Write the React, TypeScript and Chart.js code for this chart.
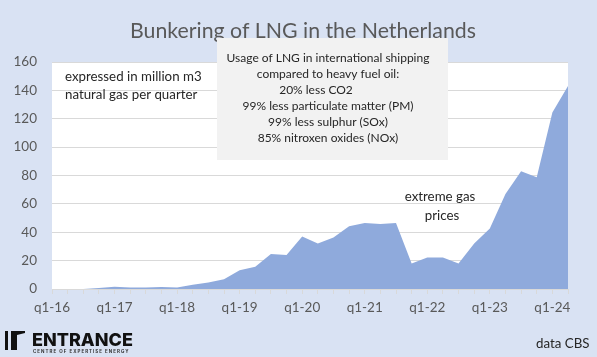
import React, { useEffect, useRef } from "react";
import { Chart, registerables } from "chart.js";

Chart.register(...registerables);

const quarters = [
  "q1-16", "q2-16", "q3-16", "q4-16",
  "q1-17", "q2-17", "q3-17", "q4-17",
  "q1-18", "q2-18", "q3-18", "q4-18",
  "q1-19", "q2-19", "q3-19", "q4-19",
  "q1-20", "q2-20", "q3-20", "q4-20",
  "q1-21", "q2-21", "q3-21", "q4-21",
  "q1-22", "q2-22", "q3-22", "q4-22",
  "q1-23", "q2-23", "q3-23", "q4-23",
  "q1-24", "q2-24",
];

const lngVolume = [
  0, 0, 0, 0.7,
  1.6, 1.0, 1.0, 1.4,
  1.0, 3.0, 4.5, 6.8,
  13.3, 15.7, 24.6, 24.0,
  37, 32, 36.3, 44.2,
  46.5, 45.8, 46.5, 18,
  22.2, 22.2, 18, 32,
  42.6, 67, 83, 78.8,
  124.4, 143,
];

const yTicks = [0, 20, 40, 60, 80, 100, 120, 140, 160];

const titleText = "Bunkering of LNG in the Netherlands";
const unitNote = ["expressed in million m3", "natural gas per quarter"];
const boxLines = [
  "Usage of LNG in international shipping",
  "compared to heavy fuel oil:",
  "20% less CO2",
  "99% less particulate matter (PM)",
  "99% less sulphur (SOx)",
  "85% nitroxen oxides (NOx)",
];
const priceNote = ["extreme gas", "prices"];
const sourceText = "data CBS";
const logoText = "ENTRANCE";
const logoSub = "CENTRE OF EXPERTISE ENERGY";

const FONT = "Lato, 'Open Sans', sans-serif";
const BG = "#D9E2F3";
const AREA = "#8FAADC";
const GRID = "#D9D9D9";
const TICK = "#595959";
const TEXT = "#262626";

const decorPlugin = {
  id: "decor",
  beforeDraw(chart: any) {
    const { ctx, chartArea } = chart;
    ctx.save();
    ctx.fillStyle = BG;
    ctx.fillRect(0, 0, chart.width, chart.height);
    ctx.fillStyle = "#FFFFFF";
    ctx.fillRect(chartArea.left, chartArea.top, chartArea.right - chartArea.left, chartArea.bottom - chartArea.top);
    ctx.restore();
  },
  afterDraw(chart: any) {
    const { ctx } = chart;
    ctx.save();
    // title
    ctx.fillStyle = TICK;
    ctx.font = `21.3px ${FONT}`;
    ctx.textAlign = "center";
    ctx.textBaseline = "alphabetic";
    ctx.fillText(titleText, 303, 38);

    // unit note
    ctx.fillStyle = TEXT;
    ctx.font = `13.3px ${FONT}`;
    ctx.textAlign = "left";
    ctx.textBaseline = "middle";
    ctx.fillText(unitNote[0], 65, 77);
    ctx.fillText(unitNote[1], 65, 95);

    // info box
    ctx.fillStyle = "#F2F2F2";
    ctx.fillRect(217, 38, 231, 122);
    ctx.fillStyle = TEXT;
    ctx.font = `12px ${FONT}`;
    ctx.textAlign = "center";
    boxLines.forEach((line, i) => {
      const cx = i === 2 ? 316 : 328;
      ctx.fillText(line, cx, 58 + i * 16);
    });

    // price note
    ctx.font = `13.3px ${FONT}`;
    ctx.fillText(priceNote[0], 440, 197);
    ctx.fillText(priceNote[1], 442, 216);

    // source
    ctx.textAlign = "left";
    ctx.fillText(sourceText, 536, 344);

    // logo
    ctx.fillStyle = "#111111";
    ctx.fillRect(5, 331, 3, 19);
    ctx.beginPath();
    ctx.moveTo(11, 331);
    ctx.lineTo(25, 331);
    ctx.lineTo(25, 333);
    ctx.lineTo(17, 335);
    ctx.lineTo(17, 350);
    ctx.lineTo(11, 350);
    ctx.closePath();
    ctx.fill();
    ctx.font = `800 18px Inter, ${FONT}`;
    ctx.textBaseline = "alphabetic";
    ctx.fillText(logoText, 32, 346);
    ctx.font = `700 4.5px Inter, ${FONT}`;
    (ctx as any).letterSpacing = "1px";
    ctx.fillStyle = "#333333";
    ctx.fillText(logoSub, 33, 353);
    (ctx as any).letterSpacing = "0px";
    ctx.restore();
  },
};

export default function App() {
  const ref = useRef<HTMLCanvasElement | null>(null);

  useEffect(() => {
    if (!ref.current) return;
    const chart = new Chart(ref.current, {
      type: "line",
      data: {
        labels: quarters,
        datasets: [
          {
            data: lngVolume,
            fill: "origin",
            backgroundColor: AREA,
            borderWidth: 0,
            borderColor: AREA,
            pointRadius: 0,
            tension: 0,
          },
        ],
      },
      options: {
        responsive: false,
        animation: false,
        events: [],
        layout: { padding: { top: 62, right: 29, left: 0, bottom: 0 } },
        plugins: {
          legend: { display: false },
          title: { display: false },
          tooltip: { enabled: false },
        },
        scales: {
          x: {
            type: "category",
            offset: false,
            afterFit: (scale: any) => {
              scale.height = 68;
            },
            grid: {
              drawOnChartArea: false,
              drawTicks: true,
              tickLength: 5,
              color: GRID,
            },
            border: { display: true, color: GRID, width: 1 },
            ticks: {
              autoSkip: false,
              maxRotation: 0,
              minRotation: 0,
              padding: 6,
              color: TICK,
              font: { family: FONT, size: 13.5 },
              callback: (_v: any, i: number) => (i % 4 === 0 ? quarters[i] : ""),
            },
          },
          y: {
            min: 0,
            max: 160,
            afterFit: (scale: any) => {
              scale.width = 52;
            },
            afterBuildTicks: (scale: any) => {
              scale.ticks = yTicks.map((v) => ({ value: v }));
            },
            grid: { color: GRID, drawTicks: false, lineWidth: 1 },
            border: { display: false },
            ticks: {
              padding: 15,
              color: TICK,
              font: { family: FONT, size: 13.5 },
            },
          },
        },
      },
      plugins: [decorPlugin],
    } as any);
    return () => chart.destroy();
  }, []);

  return (
    <div style={{ position: "fixed", left: 0, top: 0, width: 597, height: 357, background: BG }}>
      <canvas ref={ref} width={597} height={357} style={{ width: 597, height: 357, display: "block" }} />
    </div>
  );
}
